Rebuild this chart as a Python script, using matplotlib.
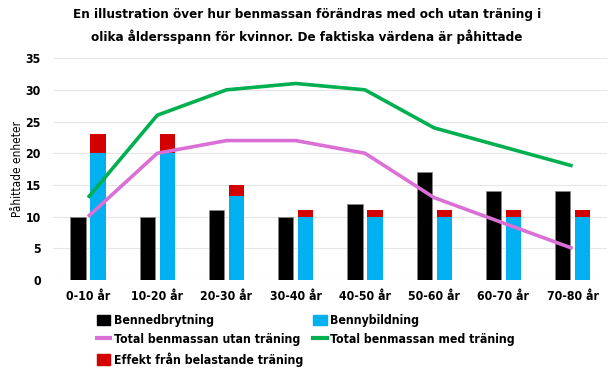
import matplotlib
matplotlib.use("Agg")
import matplotlib.pyplot as plt
import numpy as np
from matplotlib.patches import Patch
from matplotlib.lines import Line2D

plt.rcParams['font.family'] = ['DejaVu Sans']
plt.rcParams['font.stretch'] = 'condensed'

categories = ['0-10 år', '10-20 år', '20-30 år', '30-40 år', '40-50 år', '50-60 år', '60-70 år', '70-80 år']
bennedbrytning = [10, 10, 11, 10, 12, 17, 14, 14]
bennybildning = [20, 20, 13.2, 10, 10, 10, 10, 10]
effekt = [3, 3, 1.8, 1, 1, 1, 1, 1]
utan_traning = [10, 20, 22, 22, 20, 13, 9, 5]
med_traning = [13, 26, 30, 31, 30, 24, 21, 18]

BLACK = '#000000'
BLUE = '#00B0F0'
RED = '#D40000'
PINK = '#DA70D6'
GREEN = '#00B050'

fig = plt.figure(figsize=(6.14, 3.75), dpi=100)
ax = fig.add_axes([0.087, 0.253, 0.902, 0.592])

x = np.arange(len(categories))
w = 0.22
off = 0.145
ax.bar(x - off, bennedbrytning, w, color=BLACK, edgecolor='#888888', linewidth=0.5, zorder=2)
ax.bar(x + off, bennybildning, w, color=BLUE, zorder=2)
ax.bar(x + off, effekt, w, bottom=bennybildning, color=RED, zorder=2)
ax.plot(x, utan_traning, color=PINK, lw=2.6, zorder=3, solid_capstyle='butt')
ax.plot(x, med_traning, color=GREEN, lw=2.6, zorder=3, solid_capstyle='butt')

ax.set_xlim(-0.5, len(categories) - 0.5)
ax.set_ylim(0, 35)
ax.set_yticks(range(0, 36, 5))
ax.set_xticks(x)
ax.set_xticklabels(categories, fontsize=8.8, fontweight='bold')
for t in ax.get_yticklabels():
    t.set_fontsize(8.8)
    t.set_fontweight('bold')
ax.tick_params(axis='x', length=0, pad=7)
ax.tick_params(axis='y', length=0, pad=9)
ax.grid(axis='y', color='#E6E6E6', lw=0.8, zorder=0)
for s in ax.spines.values():
    s.set_visible(False)
ax.set_ylabel('Påhittade enheter', fontsize=8.5, labelpad=1)

fig.suptitle('En illustration över hur benmassan förändras med och utan träning i\nolika åldersspann för kvinnor. De faktiska värdena är påhittade',
             fontsize=9.6, fontweight='bold', y=0.978, linespacing=1.7)

handles = [
    Patch(color=BLACK),
    Line2D([], [], color=PINK, lw=3),
    Patch(color=RED),
    Patch(color=BLUE),
    Line2D([], [], color=GREEN, lw=3),
]
labels = ['Bennedbrytning', 'Total benmassan utan träning', 'Effekt från belastande träning',
          'Bennybildning', 'Total benmassan med träning']
fig.legend(handles, labels, ncol=2, loc='upper left', bbox_to_anchor=(0.158, 0.163),
           frameon=False, prop={'size': 8.8, 'weight': 'bold', 'stretch': 'condensed'},
           handlelength=1.1, handleheight=0.9, handletextpad=0.3,
           columnspacing=0.8, labelspacing=0.5, borderaxespad=0, borderpad=0)

fig.savefig('out.png', dpi=100)
